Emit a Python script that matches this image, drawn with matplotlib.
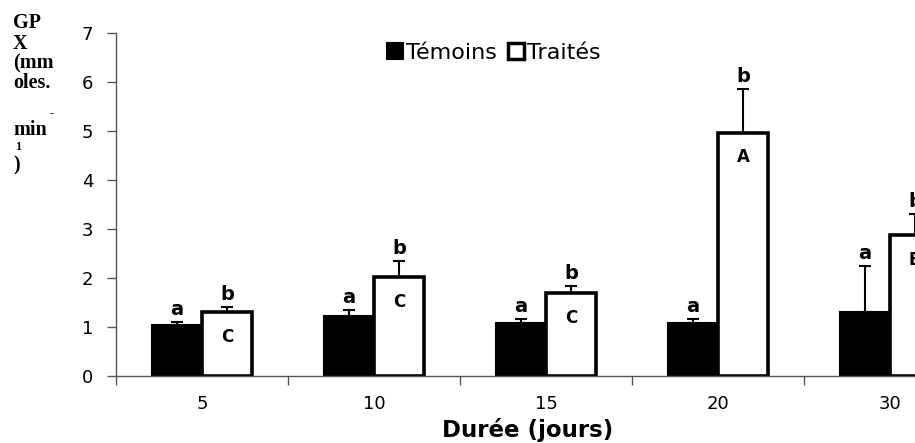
import numpy as np
import matplotlib
matplotlib.use("Agg")
import matplotlib.pyplot as plt
from matplotlib.patches import Patch

# --- data ---
durees = ["5", "10", "15", "20", "30"]
temoins = [1.04, 1.23, 1.08, 1.08, 1.30]
temoins_err = [0.06, 0.11, 0.09, 0.09, 0.95]
traites = [1.30, 2.02, 1.69, 4.96, 2.87]
traites_err = [0.10, 0.33, 0.15, 0.90, 0.43]
lettres_temoins = ["a", "a", "a", "a", "a"]
lettres_traites = ["b", "b", "b", "b", "b"]
lettres_dedans = ["C", "C", "C", "A", "B"]

plt.rcParams['font.family'] = ['DejaVu Sans']

fig = plt.figure(figsize=(9.15, 4.43), dpi=100)
# axes run past the right edge of the figure (chart is cut off in the original)
ax = fig.add_axes([116 / 915, 1 - 376 / 443, 860 / 915, 343 / 443])

x = np.arange(len(durees))
w = 0.29
ax.bar(x - w / 2, temoins, w, color="black", edgecolor="black", linewidth=1.5, zorder=2)
ax.bar(x + w / 2, traites, w, color="white", edgecolor="black", linewidth=2.6, zorder=2)
ax.errorbar(x - w / 2, temoins, yerr=[np.zeros(5), temoins_err], fmt="none",
            ecolor="black", elinewidth=1.5, capsize=4, capthick=1.5, zorder=1)
ax.errorbar(x + w / 2, traites, yerr=[np.zeros(5), traites_err], fmt="none",
            ecolor="black", elinewidth=1.5, capsize=4, capthick=1.5, zorder=1)

for i in range(len(durees)):
    ax.text(x[i] - w / 2, temoins[i] + temoins_err[i] + 0.06, lettres_temoins[i],
            ha="center", va="bottom", fontsize=14, fontweight="bold")
    ax.text(x[i] + w / 2, traites[i] + traites_err[i] + 0.06, lettres_traites[i],
            ha="center", va="bottom", fontsize=14, fontweight="bold")
    ax.text(x[i] + w / 2, traites[i] - 0.5, lettres_dedans[i],
            ha="center", va="center", fontsize=12, fontweight="bold")

ax.set_xlim(-0.5, 4.5)
ax.set_ylim(0, 7)
ax.set_yticks(range(0, 8))
ax.set_xticks(x)
ax.set_xticklabels(durees)
ax.set_xticks(np.arange(-0.5, 5.0, 1.0), minor=True)
ax.tick_params(axis="x", which="major", length=0, pad=14, labelsize=13)
ax.tick_params(axis="x", which="minor", length=6.5, width=1, color="#555555", direction="out")
ax.tick_params(axis="y", length=6.5, width=1, color="#555555", pad=10, labelsize=13)
for s in ["top", "right"]:
    ax.spines[s].set_visible(False)
for s in ["left", "bottom"]:
    ax.spines[s].set_color("#555555")
    ax.spines[s].set_linewidth(1)

ax.set_xlabel("Durée (jours)", fontsize=16.5, fontweight="bold", va="center")
ax.xaxis.set_label_coords((528 - 116) / 860, (376 - 430) / 343)

handles = [Patch(facecolor="black", edgecolor="black", linewidth=1.5),
           Patch(facecolor="white", edgecolor="black", linewidth=2.5)]
fig.legend(handles, ["Témoins", "Traités"], loc="center", bbox_to_anchor=(494 / 915, 1 - 53 / 443),
           ncol=2, frameon=False, fontsize=16, handlelength=0.7, handleheight=0.7,
           handletextpad=0.15, columnspacing=0.5)

# y label, wrapped as in the original
serif = dict(family=["Liberation Serif", "DejaVu Serif"], fontweight="bold", fontsize=14.5,
             va="center", ha="left")
for txt, yy in [("GP", 23), ("X", 44), ("(mm", 63), ("oles.", 83), ("min", 130), (")", 165)]:
    fig.text(13 / 915, 1 - yy / 443, txt, **serif)
fig.text(49 / 915, 1 - 113 / 443, "-", family=["Liberation Serif"], fontweight="bold",
         fontsize=9, va="center", ha="left")
fig.text(15 / 915, 1 - 147 / 443, "1", family=["Liberation Serif"], fontweight="bold",
         fontsize=9, va="center", ha="left")

fig.savefig("out.png", dpi=100)
